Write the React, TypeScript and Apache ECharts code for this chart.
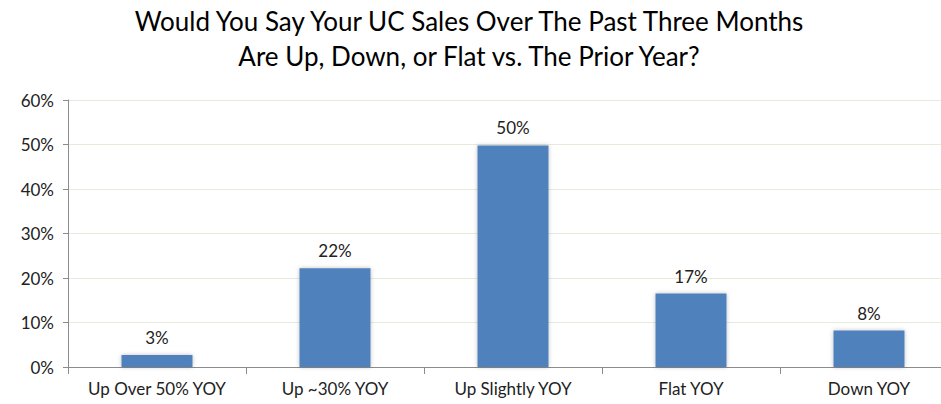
import React, { useEffect, useRef } from "react";
import * as echarts from "echarts";

const categories = ["Up Over 50% YOY", "Up ~30% YOY", "Up Slightly YOY", "Flat YOY", "Down YOY"];
const values = [2.7, 22.2, 49.8, 16.5, 8.2];
const titleLines = [
  "Would You Say Your UC Sales Over The Past Three Months",
  "Are Up, Down, or Flat vs. The Prior Year?",
];

export default function App() {
  const ref = useRef<HTMLDivElement>(null);
  useEffect(() => {
    if (!ref.current) return;
    const chart = echarts.init(ref.current, null, { renderer: "svg" });
    const font = "Lato, 'Open Sans', sans-serif";
    chart.setOption({
      animation: false,
      title: {
        text: titleLines.join("\n"),
        left: 464,
        textAlign: "center",
        top: -2,
        textStyle: {
          fontFamily: font,
          fontSize: 26,
          fontWeight: "normal",
          color: "#000",
          lineHeight: 35,
        },
      },
      grid: { left: 68, top: 100, right: 0, bottom: 37 },
      xAxis: {
        type: "category",
        data: categories,
        axisLine: { lineStyle: { color: "#8c8c8c", width: 1 } },
        axisTick: { show: true, length: 7, lineStyle: { color: "#8c8c8c" } },
        axisLabel: { fontFamily: font, fontSize: 17, color: "#222", margin: 13, interval: 0 },
      },
      yAxis: {
        type: "value",
        min: 0,
        max: 60,
        interval: 10,
        axisLine: { show: true, lineStyle: { color: "#8c8c8c" } },
        axisTick: { show: true, length: 5, lineStyle: { color: "#8c8c8c" } },
        splitLine: { lineStyle: { color: "#e9e9dc" } },
        axisLabel: { fontFamily: font, fontSize: 17, color: "#222", formatter: "{value}%", margin: 14 },
      },
      series: [
        {
          type: "bar",
          data: values,
          barWidth: 71,
          itemStyle: {
            color: "#4F81BD",
            shadowColor: "rgba(0,0,0,0.25)",
            shadowBlur: 4,
          },
          label: {
            show: true,
            position: "top",
            distance: 9,
            fontFamily: font,
            fontSize: 17,
            color: "#222",
            formatter: (p: any) => Math.round(p.value) + "%",
          },
        },
      ],
    });
    return () => chart.dispose();
  }, []);
  return (
    <div style={{ width: 941, height: 404, position: "absolute", left: 0, top: 0, overflow: "hidden" }}>
      <div ref={ref} style={{ width: 958, height: 404 }} />
    </div>
  );
}
